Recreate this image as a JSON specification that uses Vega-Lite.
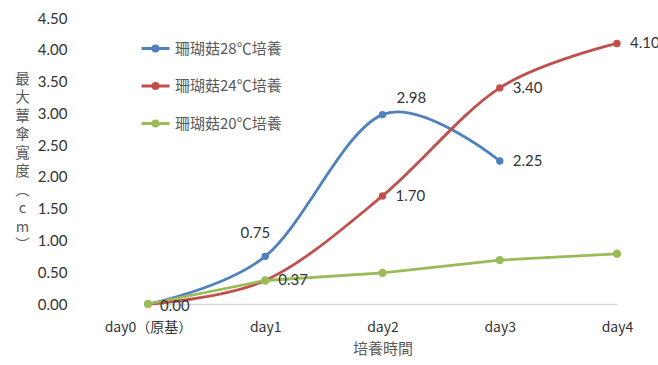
{
  "$schema": "https://vega.github.io/schema/vega-lite/v6.json",
  "width": 570,
  "height": 286,
  "autosize": {"type": "none"},
  "padding": {"left": 88, "top": 18, "right": 0, "bottom": 61},
  "background": "white",
  "config": {"view": {"stroke": null}},
  "data": {
    "values": [
      {"day": "day0（原基）", "series": "珊瑚菇28℃培養", "value": 0},
      {"day": "day1", "series": "珊瑚菇28℃培養", "value": 0.75},
      {"day": "day2", "series": "珊瑚菇28℃培養", "value": 2.98},
      {"day": "day3", "series": "珊瑚菇28℃培養", "value": 2.25},
      {"day": "day0（原基）", "series": "珊瑚菇24℃培養", "value": 0},
      {"day": "day1", "series": "珊瑚菇24℃培養", "value": 0.37},
      {"day": "day2", "series": "珊瑚菇24℃培養", "value": 1.70},
      {"day": "day3", "series": "珊瑚菇24℃培養", "value": 3.40},
      {"day": "day4", "series": "珊瑚菇24℃培養", "value": 4.10},
      {"day": "day0（原基）", "series": "珊瑚菇20℃培養", "value": 0},
      {"day": "day1", "series": "珊瑚菇20℃培養", "value": 0.37},
      {"day": "day2", "series": "珊瑚菇20℃培養", "value": 0.49},
      {"day": "day3", "series": "珊瑚菇20℃培養", "value": 0.69},
      {"day": "day4", "series": "珊瑚菇20℃培養", "value": 0.79}
    ]
  },
  "encoding": {
    "x": {
      "field": "day",
      "type": "nominal",
      "sort": ["day0（原基）", "day1", "day2", "day3", "day4"],
      "scale": {"type": "point", "domain": ["day0（原基）", "day1", "day2", "day3", "day4"], "range": [60, 529], "padding": 0},
      "axis": {
        "title": "培養時間",
        "titleFont": "Noto Sans CJK TC",
        "titleFontSize": 15,
        "titleFontWeight": "normal",
        "titleColor": "#595959",
        "titlePadding": 7,
        "labelAngle": 0,
        "labelFont": "Noto Sans CJK TC",
        "labelFontSize": 14,
        "labelColor": "#333333",
        "labelPadding": 16,
        "ticks": false,
        "domainColor": "#d9d9d9",
        "domainWidth": 1.5,
        "grid": false
      }
    },
    "y": {
      "field": "value",
      "type": "quantitative",
      "scale": {"domain": [0, 4.5], "nice": false},
      "axis": {
        "values": [0, 0.5, 1, 1.5, 2, 2.5, 3, 3.5, 4, 4.5],
        "format": ".2f",
        "labelFont": "Lato",
        "labelFontSize": 15,
        "labelColor": "#333333",
        "labelPadding": 21,
        "ticks": false,
        "domain": false,
        "grid": false,
        "title": ["最", "大", "蕈", "傘", "寬", "度", "︵", "c", "m", "︶"],
        "titleAngle": 0,
        "titleAlign": "center",
        "titleBaseline": "top",
        "titleX": -66,
        "titleY": 54,
        "titleLineHeight": 18.5,
        "titleFont": "Noto Sans CJK TC",
        "titleFontSize": 14.5,
        "titleFontWeight": "normal",
        "titleColor": "#595959"
      }
    },
    "color": {
      "field": "series",
      "type": "nominal",
      "scale": {
        "domain": ["珊瑚菇28℃培養", "珊瑚菇24℃培養", "珊瑚菇20℃培養"],
        "range": ["#4F81BD", "#C0504D", "#9BBB59"]
      },
      "legend": {
        "title": null,
        "orient": "none",
        "legendX": 52,
        "legendY": 15,
        "symbolType": "M-1,0H1M-0.18,0A0.18,0.18 0 1,0 0.18,0A0.18,0.18 0 1,0 -0.18,0Z",
        "symbolSize": 784,
        "symbolStrokeWidth": 3,
        "labelFont": "Noto Sans CJK TC",
        "labelFontSize": 15,
        "labelColor": "#595959",
        "labelOffset": 4,
        "rowPadding": 12.5,
        "encode": {
          "symbols": {"update": {"fill": {"scale": "color", "field": "value"}, "stroke": {"scale": "color", "field": "value"}, "strokeWidth": {"value": 3}}}
        }
      }
    }
  },
  "layer": [
    {
      "transform": [{"filter": "datum.series != '珊瑚菇20℃培養'"}],
      "mark": {"type": "line", "interpolate": "cardinal", "strokeWidth": 2.8}
    },
    {
      "transform": [{"filter": "datum.series != '珊瑚菇20℃培養'"}],
      "mark": {"type": "point", "filled": true, "opacity": 1, "size": 55}
    },
    {
      "transform": [{"filter": "datum.series == '珊瑚菇20℃培養'"}],
      "mark": {"type": "line", "strokeWidth": 2.8}
    },
    {
      "transform": [{"filter": "datum.series == '珊瑚菇20℃培養'"}],
      "mark": {"type": "point", "filled": true, "opacity": 1, "size": 70}
    },
    {
      "transform": [{"filter": "(datum.series == '珊瑚菇24℃培養' && (datum.day == 'day2' || datum.day == 'day3' || datum.day == 'day4')) || (datum.series == '珊瑚菇28℃培養' && datum.day == 'day3') || (datum.series == '珊瑚菇20℃培養' && datum.day == 'day1')"}],
      "mark": {"type": "text", "align": "left", "baseline": "middle", "dx": 13, "font": "Lato", "fontSize": 15, "color": "#333333"},
      "encoding": {"text": {"field": "value", "type": "quantitative", "format": ".2f"}, "color": {"value": "#333333"}}
    },
    {
      "transform": [{"filter": "datum.series == '珊瑚菇20℃培養' && datum.day == 'day0（原基）'"}],
      "mark": {"type": "text", "align": "left", "baseline": "middle", "dx": 12, "dy": 2, "font": "Lato", "fontSize": 15, "color": "#333333"},
      "encoding": {"text": {"field": "value", "type": "quantitative", "format": ".2f"}, "color": {"value": "#333333"}}
    },
    {
      "transform": [{"filter": "datum.series == '珊瑚菇28℃培養' && datum.day == 'day1'"}],
      "mark": {"type": "text", "align": "center", "baseline": "middle", "dx": -10, "dy": -23, "font": "Lato", "fontSize": 15, "color": "#333333"},
      "encoding": {"text": {"field": "value", "type": "quantitative", "format": ".2f"}, "color": {"value": "#333333"}}
    },
    {
      "transform": [{"filter": "datum.series == '珊瑚菇28℃培養' && datum.day == 'day2'"}],
      "mark": {"type": "text", "align": "left", "baseline": "middle", "dx": 14, "dy": -17, "font": "Lato", "fontSize": 15, "color": "#333333"},
      "encoding": {"text": {"field": "value", "type": "quantitative", "format": ".2f"}, "color": {"value": "#333333"}}
    }
  ]
}
